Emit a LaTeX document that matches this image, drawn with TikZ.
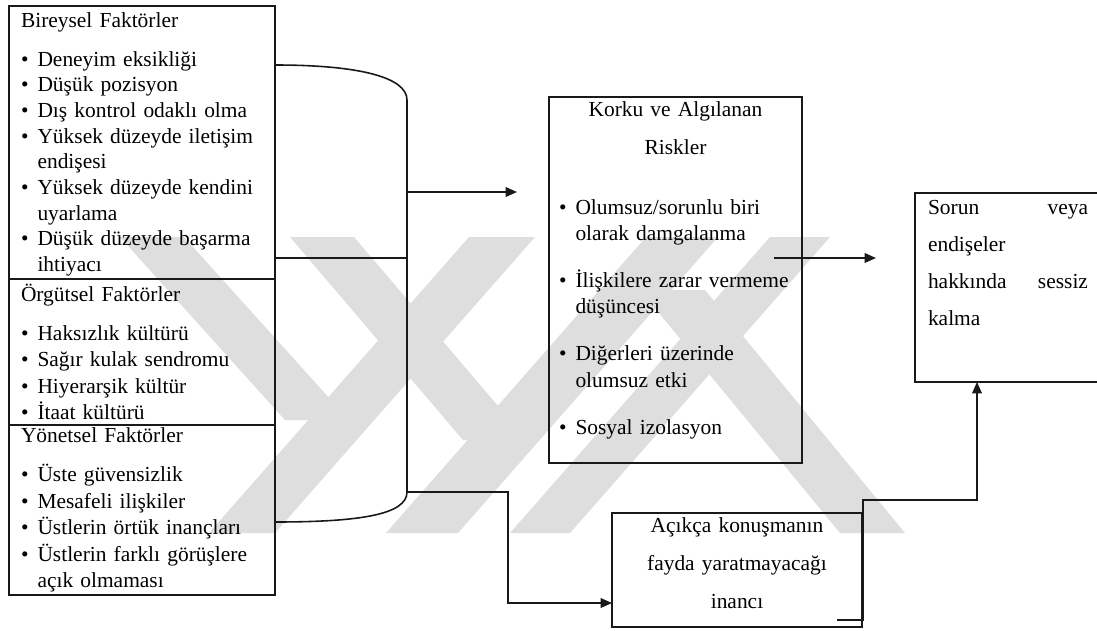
\documentclass[tikz,border=0pt]{standalone}
\usepackage{fontspec}
\setmainfont{Liberation Serif}
\usetikzlibrary{positioning, arrows.meta, calc}
\definecolor{wmgray}{RGB}{222,222,222}
\definecolor{inkgray}{RGB}{25,25,25}
\newcommand{\bul}{\makebox[9.4pt][l]{\textbullet}}
\newcommand{\cnt}{\hspace*{9.4pt}}
\tikzset{
    secbox/.style={rectangle, draw=inkgray, line width=0.9pt, outer sep=0pt, minimum width=5.32cm, text width=4.84cm, inner xsep=0.24cm, inner ysep=0pt, align=left, font=\fontsize{12.2}{15}\selectfont},
    riskbox/.style={rectangle, draw=inkgray, line width=0.9pt, outer sep=0pt, minimum width=5.06cm, minimum height=7.32cm, text width=4.66cm, inner xsep=0.2cm, inner ysep=0pt, align=left, font=\fontsize{12.2}{15}\selectfont},
    silentbox/.style={rectangle, draw=inkgray, line width=0.9pt, outer sep=0pt, minimum height=3.78cm, text width=3.2cm, inner xsep=0.26cm, inner ysep=0pt, align=left, font=\fontsize{12.2}{21.2}\selectfont},
    beliefbox/.style={rectangle, draw=inkgray, line width=0.9pt, outer sep=0pt, minimum width=5cm, minimum height=2.28cm, text width=4.6cm, inner ysep=0pt, align=center, font=\fontsize{12.2}{21.6}\selectfont},
    conn/.style={line width=0.9pt, color=inkgray},
    arr/.style={-{Triangle[length=6.5pt, width=5.5pt]}, line width=0.9pt, color=inkgray},
    wmark/.style={fill=wmgray, draw=none}
}

\begin{document}
\begin{tikzpicture}
    \useasboundingbox (0,0) rectangle (21.94,12.6);
    \fill[white] (0,0) rectangle (21.94,12.6);

    % Watermark stripes
    \fill[wmark] (2.4,7.86) -- (3.68,7.86) -- (6.98,4.2) -- (5.7,4.2) -- cycle;
    \fill[wmark] (9.38,7.86) -- (10.7,7.86) -- (5.5,1.94) -- (4.18,1.94) -- cycle;
    \fill[wmark] (5.8,7.86) -- (7.08,7.86) -- (10.54,3.8) -- (9.26,3.8) -- cycle;
    \fill[wmark] (12.92,7.86) -- (14.36,7.86) -- (9.16,1.94) -- (7.72,1.94) -- cycle;
    \fill[wmark] (15.4,7.86) -- (16.6,7.86) -- (11.4,1.94) -- (10.2,1.94) -- cycle;
    \fill[wmark] (12.8,6.8) -- (14.1,6.8) -- (18.1,1.94) -- (16.8,1.94) -- cycle;

    % Factor boxes
    \node[secbox, minimum height=5.46cm, anchor=north west, font=\fontsize{12.2}{14.6}\selectfont] (bir) at (0.18,12.48) {\rule{0pt}{10.5pt}Bireysel Faktörler\\[7.6pt]
        \bul Deneyim eksikliği\\
        \bul Düşük pozisyon\\
        \bul Dış kontrol odaklı olma\\
        \bul Yüksek düzeyde iletişim\\
        \cnt endişesi\\
        \bul Yüksek düzeyde kendini\\
        \cnt uyarlama\\
        \bul Düşük düzeyde başarma\\
        \cnt ihtiyacı};
    \node[secbox, minimum height=2.92cm, below=0pt of bir] (org) {Örgütsel Faktörler\\[7.2pt]
        \bul Haksızlık kültürü\\
        \bul Sağır kulak sendromu\\
        \bul Hiyerarşik kültür\\
        \bul İtaat kültürü};
    \node[secbox, minimum height=3.4cm, below=0pt of org] (yon) {Yönetsel Faktörler\\[7.2pt]
        \bul Üste güvensizlik\\
        \bul Mesafeli ilişkiler\\
        \bul Üstlerin örtük inançları\\
        \bul Üstlerin farklı görüşlere\\
        \cnt açık olmaması};

    % Brace round the factors
    \coordinate (brtop) at (8.14,10.6);
    \coordinate (brbot) at (8.14,2.76);
    \coordinate (brmid) at (8.14,7.44);
    \coordinate (brarr) at (8.14,8.76);
    \draw[conn] ($(bir.north east)+(0,-1.18)$) .. controls +(1.7,0) and +(0,0.45) .. (brtop) -- (brbot) .. controls +(0,-0.45) and +(1.7,0) .. ($(yon.south east)+(0,1.46)$);
    \draw[conn] ($(bir.south east)+(0,0.42)$) -- (brmid);

    % Fear, silence and belief boxes
    \node[riskbox, anchor=north west] (korku) at (10.98,10.66) {\hfill Korku ve Algılanan\hfill\null\\[6.6pt]
        \hfill Riskler\hfill\null\\[19.1pt]
        \bul Olumsuz/sorunlu biri\\
        \cnt olarak damgalanma\\[11.7pt]
        \bul İlişkilere zarar vermeme\\
        \cnt düşüncesi\\[11.7pt]
        \bul Diğerleri üzerinde\\
        \cnt olumsuz etki\\[11.7pt]
        \bul Sosyal izolasyon\rule[-14pt]{0pt}{14pt}};
    \node[silentbox, anchor=north west] (sorun) at (18.3,8.74) {Sorun\hfill veya\\
        endişeler\\
        hakkında\hfill sessiz\\
        kalma\rule[-28pt]{0pt}{28pt}};
    \node[beliefbox, anchor=north west] (acik) at (12.24,2.34) {Açıkça konuşmanın\\
        fayda yaratmayacağı\\
        inancı\rule[-8pt]{0pt}{8pt}};

    % Connectors
    \draw[arr, shorten >=0.64cm] (brarr) -- (brarr -| korku.west);
    \coordinate (kout) at (15.48,7.44);
    \draw[arr, shorten >=0.78cm] (kout) -- (kout -| sorun.west);
    \coordinate (bend1) at (10.16,0.54);
    \draw[arr] (brbot) -| (bend1) -- (bend1 -| acik.west);
    \coordinate (stub) at (16.74,0.2);
    \coordinate (bend2) at (17.26,2.6);
    \draw[arr] (stub) -| (bend2) -| ($(sorun.south west)+(1.24,0)$);
\end{tikzpicture}
\end{document}
